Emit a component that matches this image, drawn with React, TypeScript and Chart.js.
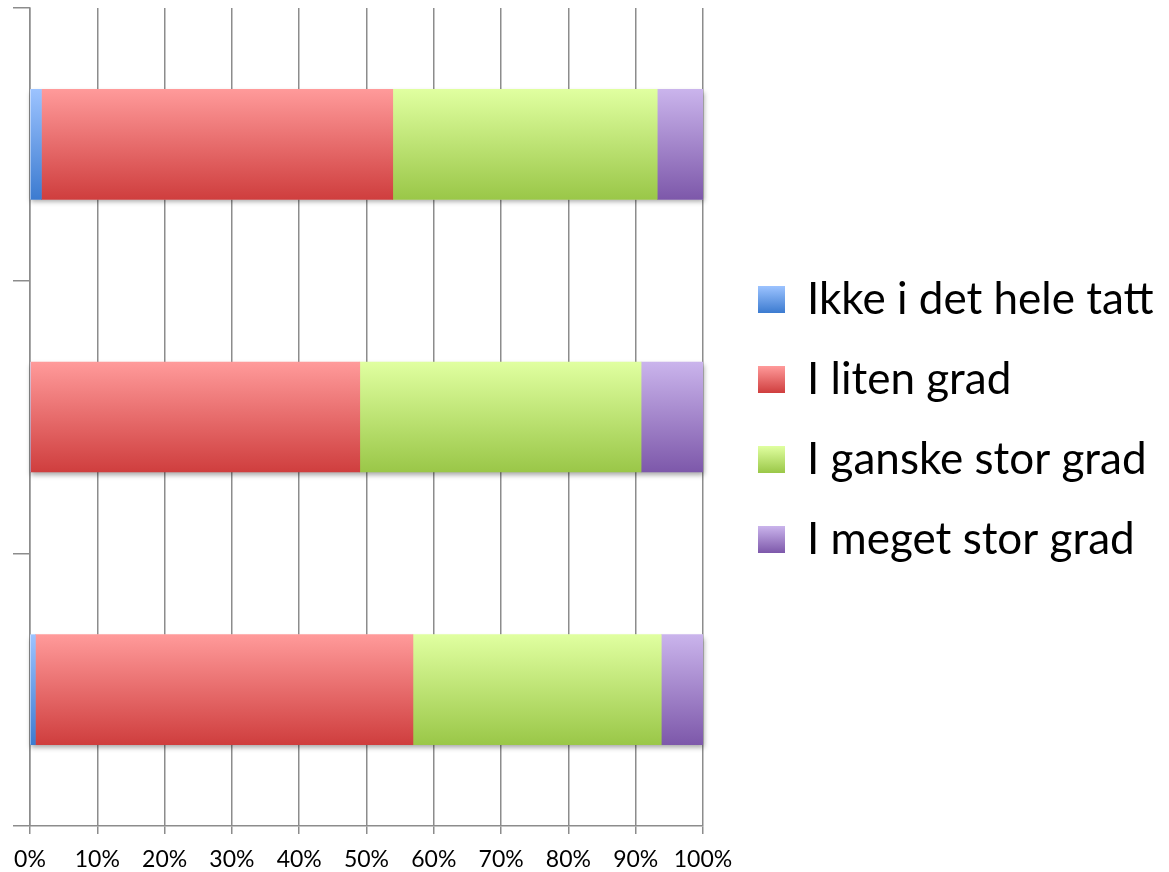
import React, { useEffect, useRef } from "react";
import { Chart, registerables } from "chart.js";

Chart.register(...registerables);

const categories = ["1", "2", "3"];
const seriesNames = ["Ikke i det hele tatt", "I liten grad", "I ganske stor grad", "I meget stor grad"];
const ikke = [1.7, 0, 0.8];
const liten = [52.2, 49.0, 56.1];
const ganske = [39.3, 41.8, 36.9];
const meget = [6.8, 9.2, 6.2];
const seriesValues = [ikke, liten, ganske, meget];
const gradTop = ["#9cc3ff", "#ff9a9a", "#e0ffa0", "#cab4ec"];
const gradBottom = ["#3c7bd0", "#cf3e3e", "#9ac748", "#7d58aa"];
const xTickMax = 100;
const xTickStep = 10;

const BAR = 110;
const FONT = "Lato, 'Open Sans', sans-serif";
const LEGEND_FONT = 44;
const LEGEND_W = 466;

export default function App() {
  const ref = useRef<HTMLCanvasElement | null>(null);
  useEffect(() => {
    let chart: any = null;
    let cancelled = false;
    const helpers = {
      id: "helpers",
      beforeLayout(c: any) {
        const lg = c.legend;
        if (lg && !lg.__patched) {
          const origFit = lg.fit.bind(lg);
          lg.fit = () => {
            origFit();
            lg.width = LEGEND_W;
          };
          lg.__patched = true;
        }
      },
      afterLayout(c: any) {
        const lg = c.legend;
        if (!lg) return;
        lg.left += 19;
        lg.right += 19;
        lg.bottom -= 41;
      },
      beforeDatasetsDraw(c: any) {
        const ctx = c.ctx;
        const xs = c.scales.x;
        const ys = c.scales.y;
        ctx.save();
        ctx.shadowColor = "rgba(0,0,0,0.35)";
        ctx.shadowBlur = 5;
        ctx.shadowOffsetX = 1;
        ctx.shadowOffsetY = 3;
        ctx.fillStyle = "#ffffff";
        categories.forEach((_, i) => {
          const total = seriesValues.reduce((s, arr) => s + arr[i], 0);
          const y = ys.getPixelForValue(i);
          const x0 = xs.getPixelForValue(0);
          const x1 = xs.getPixelForValue(total);
          ctx.fillRect(x0, y - BAR / 2, x1 - x0, BAR);
        });
        ctx.restore();
      },
      beforeDraw(c: any) {
        const lg = c.legend;
        if (!lg || !lg.legendItems || !lg.legendHitBoxes) return;
        lg.legendItems.forEach((it: any, i: number) => {
          const hb = lg.legendHitBoxes[i];
          if (!hb) return;
          const bh = 27;
          const top = hb.top + (hb.height - bh) / 2;
          const g = c.ctx.createLinearGradient(0, top, 0, top + bh);
          g.addColorStop(0, gradTop[it.datasetIndex]);
          g.addColorStop(1, gradBottom[it.datasetIndex]);
          it.fillStyle = g;
        });
      },
    };
    const build = () => {
      if (cancelled || !ref.current) return;
      chart = new Chart(ref.current, {
        type: "bar",
        data: {
          labels: categories,
          datasets: seriesValues.map((vals, si) => ({
            label: seriesNames[si],
            data: vals,
            borderWidth: 0,
            barThickness: BAR,
            backgroundColor: (ctx: any) => {
              const c = ctx.chart;
              if (!c.chartArea || ctx.type !== "data" || !c.scales.y) return gradBottom[si];
              const y = c.scales.y.getPixelForValue(ctx.dataIndex);
              const g = c.ctx.createLinearGradient(0, y - BAR / 2, 0, y + BAR / 2);
              g.addColorStop(0, gradTop[si]);
              g.addColorStop(1, gradBottom[si]);
              return g;
            },
          })),
        },
        plugins: [helpers],
        options: {
          indexAxis: "y",
          animation: false,
          responsive: false,
          maintainAspectRatio: false,
          layout: { padding: { left: 13, top: 8, right: 0, bottom: 0 } },
          scales: {
            x: {
              stacked: true,
              min: 0,
              max: xTickMax,
              afterFit: (s: any) => {
                s.height = 46;
              },
              border: { display: true, color: "#8c8c8c", width: 1.5 },
              grid: { color: "#8c8c8c", lineWidth: 1.5, tickLength: 8, drawTicks: true },
              ticks: {
                stepSize: xTickStep,
                padding: 12,
                color: "#000",
                font: { family: FONT, size: 23 },
                callback: (v: any) => v + "%",
                maxRotation: 0,
              },
            },
            y: {
              stacked: true,
              offset: true,
              border: { display: true, color: "#8c8c8c", width: 1.5 },
              grid: { offset: true, drawOnChartArea: false, drawTicks: true, tickLength: 17, color: "#8c8c8c", lineWidth: 1.5 },
              ticks: { display: false },
            },
          },
          plugins: {
            legend: {
              position: "right",
              align: "center",
              labels: {
                boxWidth: 27,
                boxHeight: 27,
                padding: 36,
                color: "#000",
                font: { family: FONT, size: LEGEND_FONT },
              },
            },
            tooltip: { enabled: false },
          },
        } as any,
      });
    };
    const fonts: any = (document as any).fonts;
    if (fonts && fonts.load) {
      Promise.all([fonts.load(LEGEND_FONT + "px Lato"), fonts.load("23px Lato")]).then(build, build);
    } else build();
    return () => {
      cancelled = true;
      if (chart) chart.destroy();
    };
  }, []);
  return (
    <div style={{ position: "fixed", left: 0, top: 0, width: 1169, height: 872, background: "#fff" }}>
      <canvas ref={ref} width={1169} height={872} style={{ display: "block" }} />
    </div>
  );
}
